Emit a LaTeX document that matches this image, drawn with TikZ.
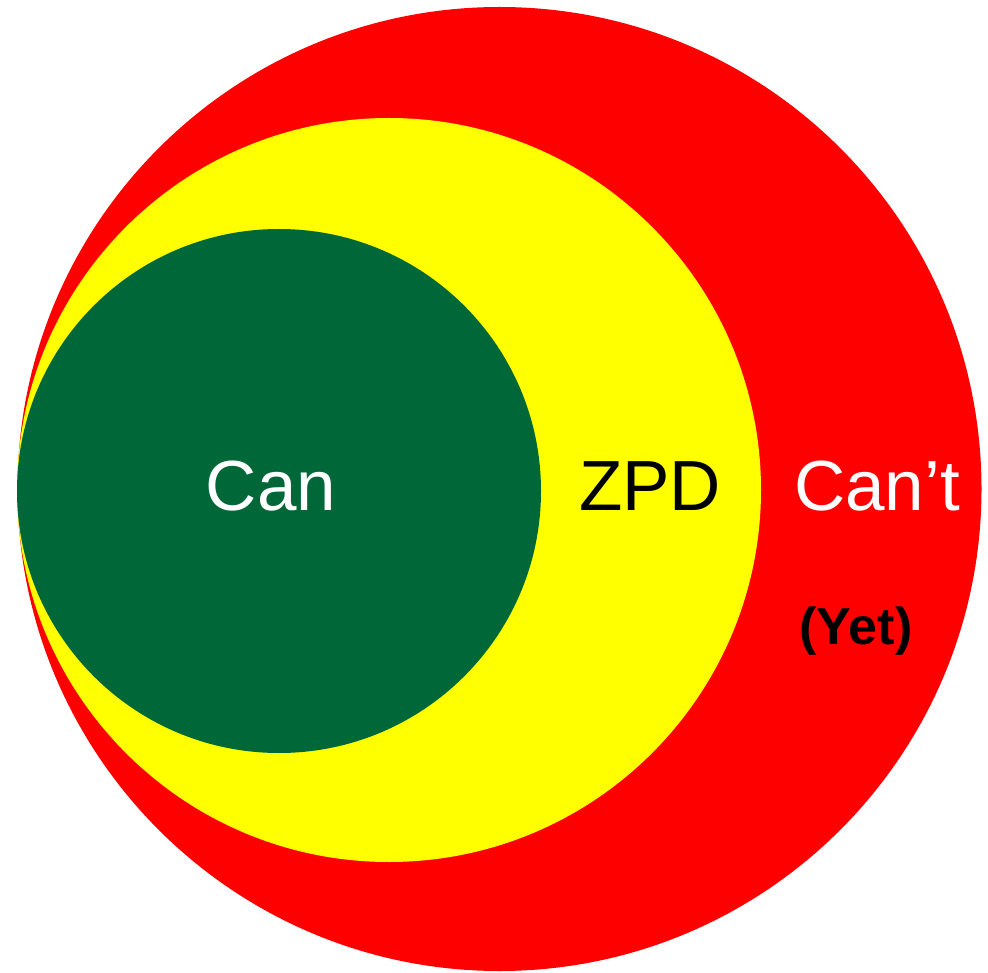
\documentclass[tikz,border=0pt]{standalone}
\usepackage{fontspec}
\setmainfont{Liberation Sans}
\definecolor{canred}{RGB}{255,0,0}
\definecolor{zpdyellow}{RGB}{255,255,0}
\definecolor{cangreen}{RGB}{0,104,56}
\begin{document}
\begin{tikzpicture}[x=1pt,y=-1pt,
  zone/.style={circle,inner sep=0pt,minimum size=#1,draw=none},
  bigtext/.style={font=\fontsize{71}{71}\selectfont,anchor=base,inner sep=0pt},
  smalltext/.style={font=\fontsize{52}{52}\selectfont\bfseries,anchor=base,inner sep=0pt}]
\useasboundingbox (0,0) rectangle (988,973);
\node[zone=964pt,fill=canred] (cant) at (499.5,489) {};
\node[zone=744pt,fill=zpdyellow] (zpd) at (389,490) {};
\node[zone=524pt,fill=cangreen] (can) at (279,491) {};
\node[bigtext,text=white] (cantext) at (271,510) {Can};
\node[bigtext,text=black] (zpdtext) at (650,510) {ZPD};
\node[bigtext,text=white] (canttext) at (877,510) {Can’t};
\node[smalltext,text=black] (yettext) at (856,644) {(Yet)};
\end{tikzpicture}
\end{document}
